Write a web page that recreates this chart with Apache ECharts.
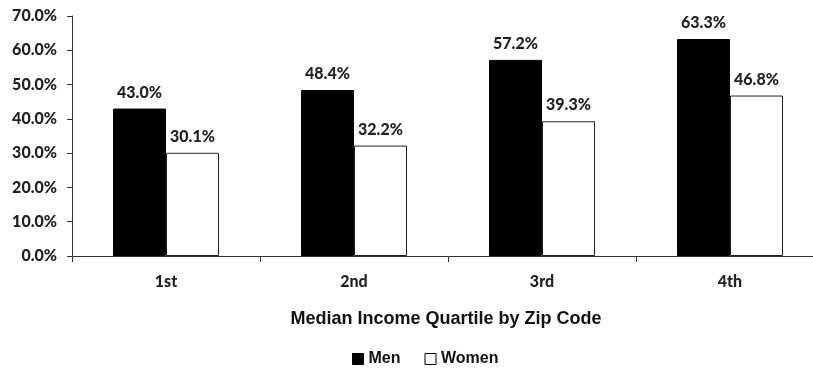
<!DOCTYPE html>
<html>
<head>
<meta charset="utf-8">
<script src="https://cdn.jsdelivr.net/npm/echarts@6/dist/echarts.min.js"></script>
<style>
  html, body { margin: 0; padding: 0; background: #fff; overflow: hidden; }
  /* the plot area runs a little past the right edge of the page */
  #chart { width: 830px; height: 368px; }
</style>
</head>
<body>
<div id="chart"></div>
<script>
// Share by median income quartile of zip code
const categories = ['1st', '2nd', '3rd', '4th'];
const menValues = [43.0, 48.4, 57.2, 63.3];
const womenValues = [30.1, 32.2, 39.3, 46.8];
const xAxisTitle = 'Median Income Quartile by Zip Code';

const labelFont = 'Lato, "Open Sans", sans-serif';
const arialFont = '"Liberation Sans", Arial, sans-serif';

const chart = echarts.init(document.getElementById('chart'), null, { renderer: 'canvas' });

const valueLabel = {
  show: true,
  position: 'top',
  distance: 8,
  formatter: p => p.value.toFixed(1) + '%',
  fontFamily: labelFont,
  fontWeight: 900,
  fontSize: 16,
  color: '#222'
};

chart.setOption({
  animation: false,
  backgroundColor: '#fff',
  grid: { left: 72, top: 16, width: 752, height: 240 },
  title: {
    text: xAxisTitle,
    left: 441,
    top: 305,
    textAlign: 'center',
    textStyle: { fontFamily: arialFont, fontWeight: 'bold', fontSize: 18, color: '#111' }
  },
  legend: {
    data: [
      { name: 'Men', itemStyle: { color: '#000', borderColor: '#000', borderWidth: 1 } },
      { name: 'Women', itemStyle: { color: '#fff', borderColor: '#000', borderWidth: 1 } }
    ],
    left: 347,
    top: 346,
    itemWidth: 11,
    itemHeight: 11,
    itemGap: 24,
    icon: 'rect',
    textStyle: { fontFamily: arialFont, fontWeight: 'bold', fontSize: 16, color: '#111' }
  },
  xAxis: {
    type: 'category',
    data: categories,
    axisLine: { lineStyle: { color: '#333', width: 1 } },
    axisTick: { show: true, alignWithLabel: false, length: 6, lineStyle: { color: '#333' } },
    axisLabel: {
      margin: 18,
      fontFamily: labelFont,
      fontWeight: 900,
      fontSize: 16,
      color: '#222'
    }
  },
  yAxis: {
    type: 'value',
    min: 0,
    max: 70,
    interval: 10,
    splitLine: { show: false },
    axisLine: { show: true, lineStyle: { color: '#333', width: 1 } },
    axisTick: { show: true, length: 5, lineStyle: { color: '#333' } },
    axisLabel: {
      margin: 15,
      formatter: v => v.toFixed(1) + '%',
      fontFamily: labelFont,
      fontWeight: 900,
      fontSize: 16,
      color: '#222'
    }
  },
  series: [
    {
      name: 'Men',
      type: 'bar',
      data: menValues,
      barWidth: 53,
      barGap: '0%',
      itemStyle: { color: '#000', borderColor: '#000', borderWidth: 1 },
      label: valueLabel
    },
    {
      name: 'Women',
      type: 'bar',
      data: womenValues,
      barWidth: 53,
      barGap: '0%',
      itemStyle: { color: '#fff', borderColor: '#222', borderWidth: 1 },
      label: valueLabel
    }
  ]
});
</script>
</body>
</html>
